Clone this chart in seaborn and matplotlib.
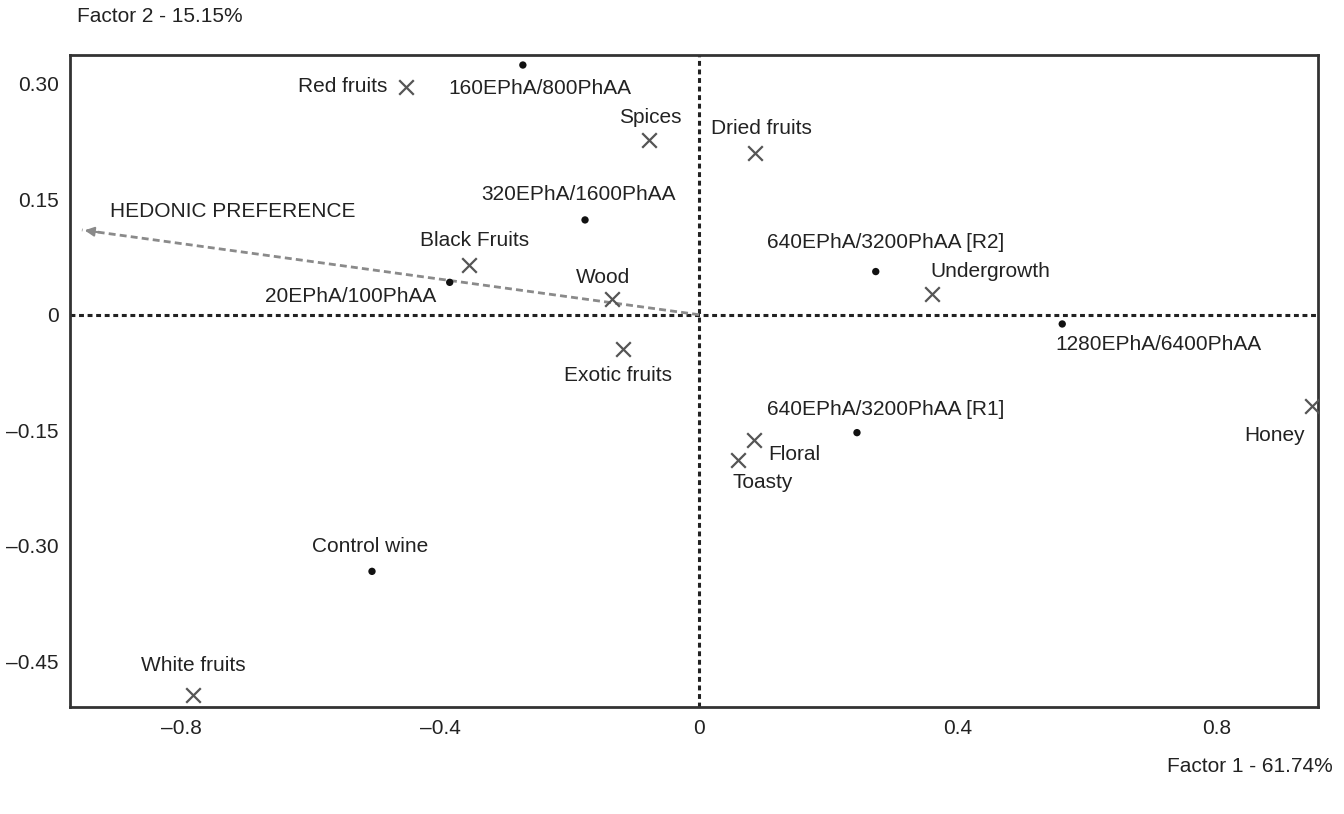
import matplotlib
matplotlib.use('Agg')
import matplotlib.pyplot as plt
import seaborn as sns
import pandas as pd

# samples (dots)
samples = ['160EPhA/800PhAA', '320EPhA/1600PhAA', '20EPhA/100PhAA',
           '640EPhA/3200PhAA [R2]', '1280EPhA/6400PhAA',
           '640EPhA/3200PhAA [R1]', 'Control wine']
sample_f1 = [-0.272, -0.176, -0.385, 0.273, 0.561, 0.244, -0.505]
sample_f2 = [0.324, 0.123, 0.042, 0.056, -0.012, -0.153, -0.333]

# sensory attributes (crosses)
attributes = ['Red fruits', 'Spices', 'Dried fruits', 'Black Fruits', 'Wood',
              'Exotic fruits', 'Undergrowth', 'Honey', 'Floral', 'Toasty',
              'White fruits']
attr_f1 = [-0.453, -0.077, 0.087, -0.355, -0.134, -0.117, 0.360, 0.947,
           0.085, 0.060, -0.781]
attr_f2 = [0.296, 0.227, 0.210, 0.064, 0.021, -0.044, 0.027, -0.119,
           -0.162, -0.188, -0.494]

# hedonic preference vector
pref_name = 'HEDONIC PREFERENCE'
pref_f1, pref_f2 = -0.953, 0.110

xtick_vals = [-0.8, -0.4, 0, 0.4, 0.8]
xtick_labels = ['\u20130.8', '\u20130.4', '0', '0.4', '0.8']
ytick_vals = [0.30, 0.15, 0, -0.15, -0.30, -0.45]
ytick_labels = ['0.30', '0.15', '0', '\u20130.15', '\u20130.30', '\u20130.45']

# label placement: (dx, dy) in pixels, horizontal alignment
label_pos = {
    '160EPhA/800PhAA': (17, -23, 'center'),
    '320EPhA/1600PhAA': (-7, 25, 'center'),
    '20EPhA/100PhAA': (-13, -14, 'right'),
    '640EPhA/3200PhAA [R2]': (-109, 29, 'left'),
    '1280EPhA/6400PhAA': (-7, -21, 'left'),
    '640EPhA/3200PhAA [R1]': (-90, 23, 'left'),
    'Control wine': (-2, 25, 'center'),
    'Red fruits': (-18, 0, 'right'),
    'Spices': (1, 22, 'center'),
    'Dried fruits': (6, 24, 'center'),
    'Black Fruits': (5, 25, 'center'),
    'Wood': (-9, 21, 'center'),
    'Exotic fruits': (-5, -27, 'center'),
    'Undergrowth': (-2, 22, 'left'),
    'Honey': (-7, -29, 'right'),
    'Floral': (14, -15, 'left'),
    'Toasty': (25, -23, 'center'),
    'White fruits': (0, 30, 'center'),
}

FS = 15

sns.set_theme(style='white')
plt.rcParams['font.family'] = ['Liberation Sans', 'DejaVu Sans']
plt.rcParams['font.size'] = FS

df_s = pd.DataFrame({'f1': sample_f1, 'f2': sample_f2, 'name': samples})
df_a = pd.DataFrame({'f1': attr_f1, 'f2': attr_f2, 'name': attributes})

fig, ax = plt.subplots(figsize=(13.44, 8.14), dpi=100)
fig.subplots_adjust(left=70/1344, right=1318/1344, top=1-55/814, bottom=1-707/814)

ax.axhline(0, color='#222222', lw=2.2, ls=(0, (1.6, 1.2)), zorder=1)
ax.axvline(0, color='#222222', lw=2.2, ls=(0, (1.6, 1.2)), zorder=1)

# preference vector
ax.plot([0, pref_f1], [0, pref_f2], color='#8a8a8a', lw=2, ls=(0, (2.5, 1.5)), zorder=2)
ax.annotate('', xy=(pref_f1, pref_f2), xytext=(pref_f1 * 0.97, pref_f2 * 0.97),
            arrowprops=dict(arrowstyle='-|>', color='#8a8a8a', lw=1.5,
                            mutation_scale=14))
ax.annotate(pref_name, (pref_f1, pref_f2), xytext=(28, 18), textcoords='offset pixels',
            ha='left', va='center', color='#222222', fontsize=FS)

sns.scatterplot(data=df_s, x='f1', y='f2', marker='o', s=28, color='#111111',
                edgecolor='none', ax=ax, zorder=3)
sns.scatterplot(data=df_a, x='f1', y='f2', marker='x', s=110, color='#555555',
                linewidth=1.6, ax=ax, zorder=3)

for df in (df_s, df_a):
    for _, r in df.iterrows():
        dx, dy, ha = label_pos[r['name']]
        ax.annotate(r['name'], (r['f1'], r['f2']), xytext=(dx, dy),
                    textcoords='offset pixels', ha=ha, va='center',
                    color='#222222', fontsize=FS)

ax.set_xlim(-0.9714, 0.956)
ax.set_ylim(-0.509, 0.337)
ax.set_xticks(xtick_vals)
ax.set_xticklabels(xtick_labels)
ax.set_yticks(ytick_vals)
ax.set_yticklabels(ytick_labels)
ax.set_xlabel('')
ax.set_ylabel('')
ax.tick_params(direction='inout', length=12, width=2, color='#222222',
               labelcolor='#222222', labelsize=FS, pad=2)
ax.tick_params(axis='x', pad=3)
for sp in ax.spines.values():
    sp.set_color('#333333')
    sp.set_linewidth(2)

fig.text(77/1344, 1-17/814, 'Factor 2 - 15.15%', ha='left', va='center',
         color='#222222', fontsize=FS)
fig.text(1333/1344, 1-766/814, 'Factor 1 - 61.74%', ha='right', va='center',
         color='#222222', fontsize=FS)

fig.savefig('out.png', dpi=100)
